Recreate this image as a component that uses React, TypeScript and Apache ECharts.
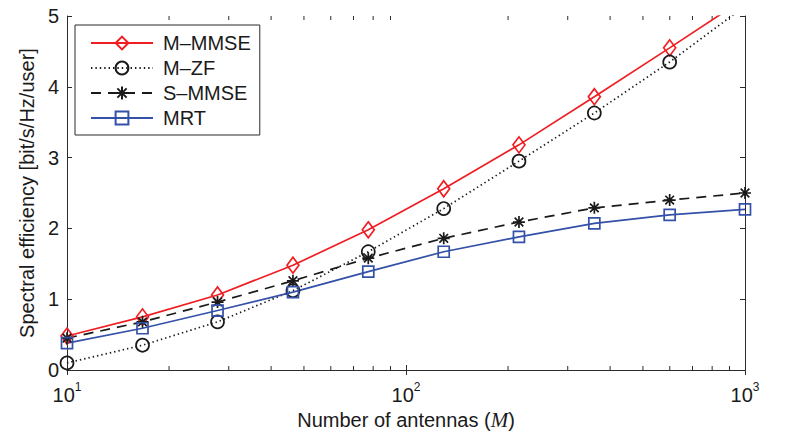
import React, { useEffect, useRef } from "react";
import * as echarts from "echarts";

// Number of base-station antennas M (log-spaced from 10 to 1000)
const antennas = [10, 16.7, 27.8, 46.4, 77.4, 129.2, 215.4, 359.4, 599.5, 1000];

// Spectral efficiency per user [bit/s/Hz/user]
const mMmse = [0.48, 0.75, 1.06, 1.48, 1.98, 2.56, 3.18, 3.86, 4.55, 5.25];
const mZf = [0.1, 0.35, 0.68, 1.12, 1.67, 2.28, 2.95, 3.63, 4.35, 5.14];
const sMmse = [0.45, 0.68, 0.96, 1.26, 1.58, 1.86, 2.09, 2.29, 2.4, 2.5];
const mrt = [0.38, 0.59, 0.84, 1.1, 1.39, 1.67, 1.88, 2.07, 2.19, 2.27];

const seriesNames = ["M–MMSE", "M–ZF", "S–MMSE", "MRT"];

// Intermediate decade ticks of the log axis
const minorTicks = [20, 30, 40, 50, 60, 70, 80, 90, 200, 300, 400, 500, 600, 700, 800, 900];

const FONT = "'Liberation Sans', Arial, Helvetica, sans-serif";
const AXIS = "#2b2b2b";
const TEXT = "#1a1a1a";
const RED = "#f01e23";
const BLUE = "#3450a8";
const BLACK = "#1a1a1a";
const ASTERISK = "path://M0,-1L0,1M-1,0L1,0M-0.72,-0.72L0.72,0.72M-0.72,0.72L0.72,-0.72";
const HOLLOW = "rgba(255,255,255,0)";

const pairs = (ys: number[]) => antennas.map((x, i) => [x, ys[i]]);

export default function App() {
  const ref = useRef<HTMLDivElement>(null);

  useEffect(() => {
    if (!ref.current) return;
    const chart = echarts.init(ref.current, undefined, { renderer: "svg" });

    const xCommon = {
      type: "log" as const,
      logBase: 10,
      min: 10,
      max: 1000,
      splitLine: { show: false },
      axisLine: { lineStyle: { color: AXIS, width: 1 } },
      axisTick: { inside: true, length: 5, lineStyle: { color: AXIS } },
    };
    const yCommon = {
      type: "value" as const,
      min: 0,
      max: 5,
      interval: 1,
      splitLine: { show: false },
      axisLine: { show: true, lineStyle: { color: AXIS, width: 1 } },
      axisTick: { show: true, inside: true, length: 5, lineStyle: { color: AXIS } },
    };

    const lineSeries = (
      name: string,
      ys: number[],
      color: string,
      symbol: string,
      symbolSize: number | number[],
      type: any
    ) => ({
      name,
      type: "line",
      data: pairs(ys),
      xAxisIndex: 0,
      yAxisIndex: 0,
      symbol,
      symbolSize,
      clip: true,
      z: 3,
      lineStyle: { color, width: 1.7, type },
      itemStyle: { color: HOLLOW, borderColor: color, borderWidth: 1.7 },
      emphasis: { disabled: true },
    });

    chart.setOption({
      animation: false,
      textStyle: { fontFamily: FONT },
      grid: { left: 67, right: 53, top: 16, bottom: 68, containLabel: false },
      legend: {
        data: seriesNames,
        orient: "vertical",
        left: 75,
        top: 25,
        padding: [8, 9, 7, 15],
        itemWidth: 62,
        itemHeight: 16,
        itemGap: 5,
        backgroundColor: "#fff",
        borderColor: AXIS,
        borderWidth: 1,
        borderRadius: 0,
        selectedMode: false,
        textStyle: { fontFamily: FONT, fontSize: 20, color: TEXT, padding: [0, 0, 0, 5] },
      },
      xAxis: [
        {
          ...xCommon,
          position: "bottom",
          name: "Number of antennas ({i|M})",
          nameLocation: "middle",
          nameGap: 35,
          nameTextStyle: {
            fontFamily: FONT,
            fontSize: 20,
            color: TEXT,
            rich: {
              i: { fontFamily: "'Liberation Serif', 'DejaVu Serif', serif", fontStyle: "italic", fontSize: 21, color: TEXT },
            },
          },
          axisLabel: {
            margin: 11,
            color: TEXT,
            formatter: (v: number) => `{b|10}{s|${Math.round(Math.log10(v))}}`,
            rich: {
              b: { fontFamily: FONT, fontSize: 20, color: TEXT, lineHeight: 24, verticalAlign: "bottom" },
              s: { fontFamily: FONT, fontSize: 12, color: TEXT, lineHeight: 24, verticalAlign: "top" },
            },
          },
        },
        {
          ...xCommon,
          position: "top",
          axisLabel: { show: false },
        },
      ],
      yAxis: [
        {
          ...yCommon,
          position: "left",
          name: "Spectral efficiency [bit/s/Hz/user]",
          nameLocation: "middle",
          nameGap: 29,
          nameTextStyle: { fontFamily: FONT, fontSize: 20, color: TEXT },
          axisLabel: { margin: 8, fontFamily: FONT, fontSize: 20, color: TEXT },
        },
        {
          ...yCommon,
          position: "right",
          axisLabel: { show: false },
        },
      ],
      series: [
        lineSeries(seriesNames[0], mMmse, RED, "diamond", [12, 16], "solid"),
        lineSeries(seriesNames[1], mZf, BLACK, "circle", 13, [1.4, 3]),
        lineSeries(seriesNames[2], sMmse, BLACK, ASTERISK, 12, [10, 7]),
        lineSeries(seriesNames[3], mrt, BLUE, "rect", 11, "solid"),
        {
          type: "custom",
          name: "minor-ticks",
          xAxisIndex: 0,
          yAxisIndex: 0,
          silent: true,
          clip: false,
          z: 1,
          data: minorTicks.map((t) => [t, 0]),
          renderItem: (params: any, api: any) => {
            const cs = params.coordSys;
            const x = api.coord([api.value(0), 0])[0];
            const bottom = cs.y + cs.height;
            const style = { stroke: AXIS, lineWidth: 1 };
            return {
              type: "group",
              children: [
                { type: "line", shape: { x1: x, y1: bottom, x2: x, y2: bottom - 4 }, style },
                { type: "line", shape: { x1: x, y1: cs.y, x2: x, y2: cs.y + 4 }, style },
              ],
            };
          },
        },
      ],
    });

    return () => chart.dispose();
  }, []);

  return (
    <div
      ref={ref}
      style={{ position: "fixed", left: 0, top: 0, width: 798, height: 438, background: "#fff" }}
    />
  );
}
